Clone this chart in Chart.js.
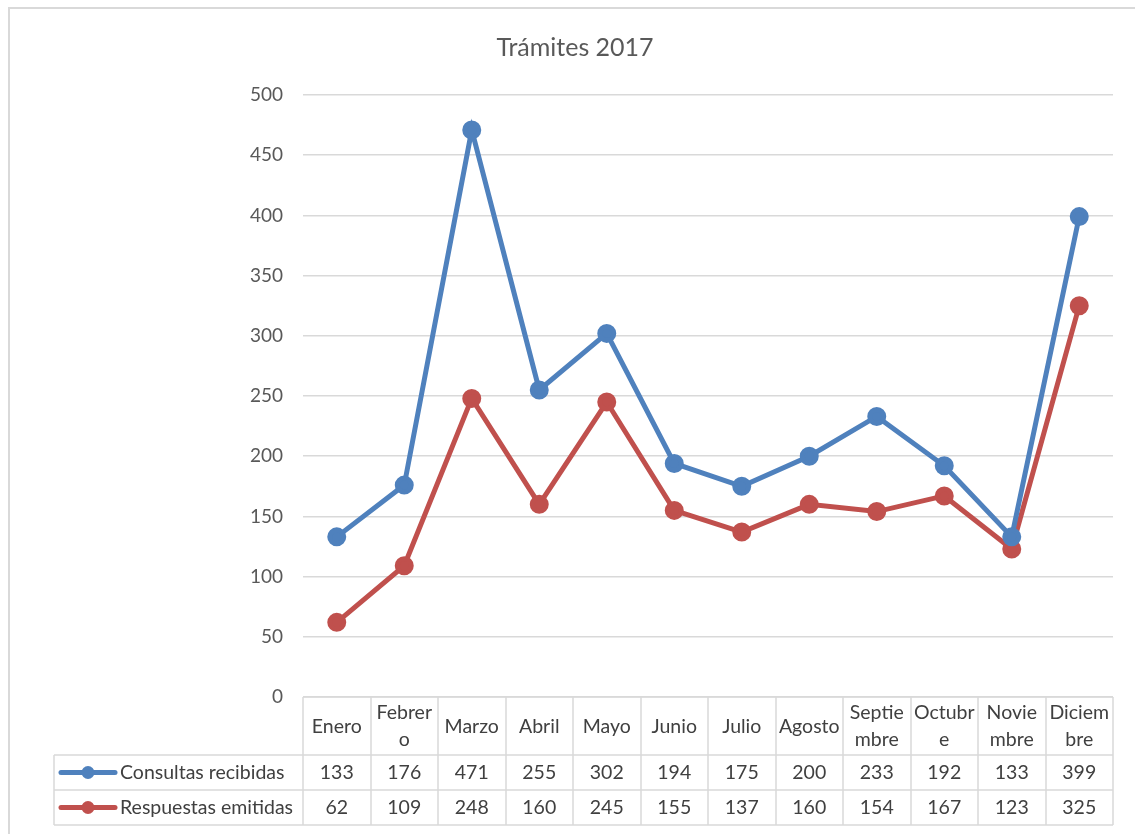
<!DOCTYPE html>
<html>
<head>
<meta charset="utf-8">
<title>Trámites 2017</title>
<script src="https://cdn.jsdelivr.net/npm/chart.js@4/dist/chart.umd.min.js"></script>
<style>
  body { margin: 0; background: #fff; }
  #wrap { width: 1135px; height: 834px; }
</style>
</head>
<body>
<div id="wrap"><canvas id="tramites" width="1135" height="834"></canvas></div>
<script>
var months = [['Enero'], ['Febrer', 'o'], ['Marzo'], ['Abril'], ['Mayo'], ['Junio'], ['Julio'],
              ['Agosto'], ['Septie', 'mbre'], ['Octubr', 'e'], ['Novie', 'mbre'], ['Diciem', 'bre']];
var consultas = [133, 176, 471, 255, 302, 194, 175, 200, 233, 192, 133, 399];
var respuestas = [62, 109, 248, 160, 245, 155, 137, 160, 154, 167, 123, 325];
var seriesNames = ['Consultas recibidas', 'Respuestas emitidas'];
var chartTitle = 'Trámites 2017';

var blue = '#4F81BD';
var red = '#C0504D';
var gridColor = '#d9d9d9';
var textColor = '#595959';
var font = 'Lato, "Open Sans", sans-serif';

// outer frame + title
var frame = {
    id: 'frame',
    beforeDraw: function(chart) {
        var ctx = chart.ctx;
        ctx.save();
        ctx.fillStyle = '#fff';
        ctx.fillRect(0, 0, chart.width, chart.height);
        ctx.strokeStyle = gridColor;
        ctx.lineWidth = 2;
        ctx.beginPath();
        ctx.moveTo(9, chart.height + 5);
        ctx.lineTo(9, 8);
        ctx.lineTo(chart.width + 5, 8);
        ctx.stroke();
        ctx.fillStyle = textColor;
        ctx.font = '25px ' + font;
        ctx.textAlign = 'center';
        ctx.textBaseline = 'alphabetic';
        ctx.fillText(chartTitle, 575, 56);
        ctx.restore();
    }
};

// data table under the plot, columns follow the x scale
var dataTable = {
    id: 'dataTable',
    afterDraw: function(chart) {
        var ctx = chart.ctx;
        var xs = chart.scales.x;
        var area = chart.chartArea;
        var step = (area.right - area.left) / months.length;
        var top = area.bottom;
        var rows = [top, top + 58, top + 93, top + 128];
        var tableLeft = 54;

        ctx.save();
        ctx.strokeStyle = gridColor;
        ctx.lineWidth = 1.5;
        ctx.beginPath();
        // horizontal lines
        ctx.moveTo(area.left, rows[0]); ctx.lineTo(area.right, rows[0]);
        for (var r = 1; r < rows.length; r++) {
            ctx.moveTo(tableLeft, rows[r]); ctx.lineTo(area.right, rows[r]);
        }
        // vertical lines
        for (var i = 0; i <= months.length; i++) {
            var bx = Math.round(area.left + i * step);
            ctx.moveTo(bx, rows[0]); ctx.lineTo(bx, rows[3]);
        }
        ctx.moveTo(tableLeft, rows[1]); ctx.lineTo(tableLeft, rows[3]);
        ctx.stroke();

        ctx.fillStyle = '#404040';
        ctx.font = '19.5px ' + font;
        ctx.textAlign = 'center';
        ctx.textBaseline = 'middle';
        months.forEach(function(lines, i) {
            var cx = xs.getPixelForValue(i);
            var cy = (rows[0] + rows[1]) / 2;
            if (lines.length === 1) {
                ctx.fillText(lines[0], cx, cy + 1);
            } else {
                ctx.fillText(lines[0], cx, cy - 13);
                ctx.fillText(lines[1], cx, cy + 14);
            }
            ctx.fillText(String(consultas[i]), cx, (rows[1] + rows[2]) / 2);
            ctx.fillText(String(respuestas[i]), cx, (rows[2] + rows[3]) / 2);
        });

        // legend keys in the row headers
        [blue, red].forEach(function(col, k) {
            var cy = (rows[k + 1] + rows[k + 2]) / 2;
            ctx.strokeStyle = col;
            ctx.lineWidth = 5;
            ctx.lineCap = 'round';
            ctx.beginPath();
            ctx.moveTo(61, cy); ctx.lineTo(115, cy);
            ctx.stroke();
            ctx.fillStyle = col;
            ctx.beginPath();
            ctx.arc(88, cy, 6.5, 0, Math.PI * 2);
            ctx.fill();
            ctx.fillStyle = '#404040';
            ctx.textAlign = 'left';
            ctx.fillText(seriesNames[k], 120, cy);
        });
        ctx.restore();
    }
};

new Chart(document.getElementById('tramites').getContext('2d'), {
    type: 'line',
    data: {
        labels: months,
        datasets: [
            {
                label: seriesNames[0],
                data: consultas,
                borderColor: blue,
                backgroundColor: blue,
                borderWidth: 5,
                pointRadius: 7,
                pointHoverRadius: 7,
                tension: 0
            },
            {
                label: seriesNames[1],
                data: respuestas,
                borderColor: red,
                backgroundColor: red,
                borderWidth: 5,
                pointRadius: 7,
                pointHoverRadius: 7,
                tension: 0
            }
        ]
    },
    options: {
        responsive: false,
        animation: false,
        layout: { padding: { left: 0, right: 22, top: 95, bottom: 137 } },
        plugins: {
            legend: { display: false },
            title: { display: false },
            tooltip: { enabled: false }
        },
        scales: {
            x: {
                type: 'category',
                display: false,
                offset: true
            },
            y: {
                min: 0,
                max: 500,
                afterFit: function(scale) { scale.width = 303; },
                ticks: {
                    stepSize: 50,
                    padding: 20,
                    color: textColor,
                    font: { family: font, size: 19 }
                },
                grid: { color: gridColor, lineWidth: 1.5, drawTicks: false },
                border: { display: false }
            }
        }
    },
    plugins: [frame, dataTable]
});
</script>
</body>
</html>
